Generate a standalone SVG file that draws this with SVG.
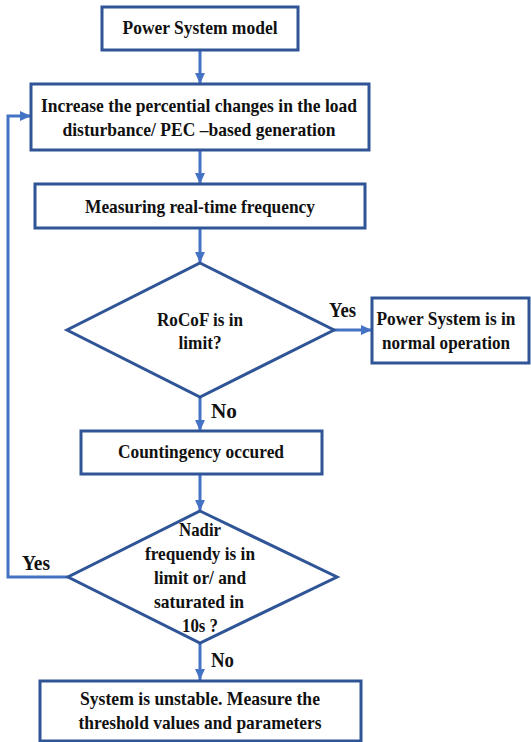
<svg xmlns="http://www.w3.org/2000/svg" width="531" height="742" viewBox="0 0 531 742">
<style>
.box{fill:#fff;stroke:#2F5597;stroke-width:3}
.t{font-family:"Liberation Serif","DejaVu Serif","Times New Roman",serif;font-weight:bold;font-size:19px;fill:#111;text-anchor:middle}
.lbl{font-family:"Liberation Serif","DejaVu Serif","Times New Roman",serif;font-weight:bold;font-size:21px;fill:#111}
.c{fill:none;stroke:#4472C4;stroke-width:3}
</style>
<defs>
<marker id="ah" markerUnits="userSpaceOnUse" viewBox="0 0 10 10" refX="10" refY="5" markerWidth="11" markerHeight="11" orient="auto">
<path d="M0,0.5 L10,5 L0,9.5 z" fill="#4472C4"/>
</marker>
</defs>
<rect width="531" height="742" fill="#fff"/>
<g id="connectors">
<line class="c" x1="200" y1="50" x2="200" y2="84" marker-end="url(#ah)"/>
<line class="c" x1="200" y1="150" x2="200" y2="184" marker-end="url(#ah)"/>
<line class="c" x1="200" y1="228" x2="200" y2="263" marker-end="url(#ah)"/>
<line class="c" x1="334" y1="330" x2="372" y2="330" marker-end="url(#ah)"/>
<line class="c" x1="200" y1="397" x2="200" y2="431" marker-end="url(#ah)"/>
<line class="c" x1="200" y1="474" x2="200" y2="511" marker-end="url(#ah)"/>
<line class="c" x1="200" y1="643" x2="200" y2="680" marker-end="url(#ah)"/>
<polyline class="c" points="68,577 8,577 8,116 31,116" marker-end="url(#ah)"/>
<text class="lbl" x="329" y="317" textLength="27" lengthAdjust="spacingAndGlyphs">Yes</text>
<text class="lbl" x="211" y="418" textLength="26" lengthAdjust="spacingAndGlyphs">No</text>
<text class="lbl" x="22" y="570" textLength="28" lengthAdjust="spacingAndGlyphs">Yes</text>
<text class="lbl" x="211" y="667" textLength="23" lengthAdjust="spacingAndGlyphs">No</text>
</g>
<g id="n1">
<rect class="box" x="102" y="7" width="196" height="43"/>
<text class="t" x="200" y="34" textLength="155" lengthAdjust="spacingAndGlyphs">Power System model</text>
</g>
<g id="n2">
<rect class="box" x="31" y="84" width="338" height="66"/>
<text class="t" x="199" y="112" textLength="316" lengthAdjust="spacingAndGlyphs">Increase the percential changes in the load</text>
<text class="t" x="199" y="136" textLength="273" lengthAdjust="spacingAndGlyphs">disturbance/ PEC –based generation</text>
</g>
<g id="n3">
<rect class="box" x="35" y="184" width="330" height="44"/>
<text class="t" x="200" y="213" textLength="230" lengthAdjust="spacingAndGlyphs">Measuring real-time frequency</text>
</g>
<g id="n4">
<polygon class="box" points="200,263 334,330 200,397 67,330"/>
<text class="t" x="200" y="326" textLength="86" lengthAdjust="spacingAndGlyphs">RoCoF is in</text>
<text class="t" x="200" y="349" textLength="43" lengthAdjust="spacingAndGlyphs">limit?</text>
</g>
<g id="n5">
<rect class="box" x="372" y="298" width="157" height="65"/>
<text class="t" x="446" y="325" textLength="139" lengthAdjust="spacingAndGlyphs">Power System is in</text>
<text class="t" x="446" y="349" textLength="128" lengthAdjust="spacingAndGlyphs">normal operation</text>
</g>
<g id="n6">
<rect class="box" x="81" y="431" width="241" height="43"/>
<text class="t" x="201" y="458" textLength="166" lengthAdjust="spacingAndGlyphs">Countingency occured</text>
</g>
<g id="n7">
<polygon class="box" points="200,511 337,577 200,643 68,577"/>
<text class="t" x="200" y="536" textLength="42" lengthAdjust="spacingAndGlyphs">Nadir</text>
<text class="t" x="200" y="560" textLength="110" lengthAdjust="spacingAndGlyphs">frequendy is in</text>
<text class="t" x="200" y="584" textLength="92" lengthAdjust="spacingAndGlyphs">limit or/ and</text>
<text class="t" x="199" y="608" textLength="90" lengthAdjust="spacingAndGlyphs">saturated in</text>
<text class="t" x="200" y="632" textLength="36" lengthAdjust="spacingAndGlyphs">10s ?</text>
</g>
<g id="n8">
<rect class="box" x="40" y="681" width="321" height="60"/>
<text class="t" x="200" y="705" textLength="240" lengthAdjust="spacingAndGlyphs">System is unstable. Measure the</text>
<text class="t" x="200" y="729" textLength="243" lengthAdjust="spacingAndGlyphs">threshold values and parameters</text>
</g>
</svg>
